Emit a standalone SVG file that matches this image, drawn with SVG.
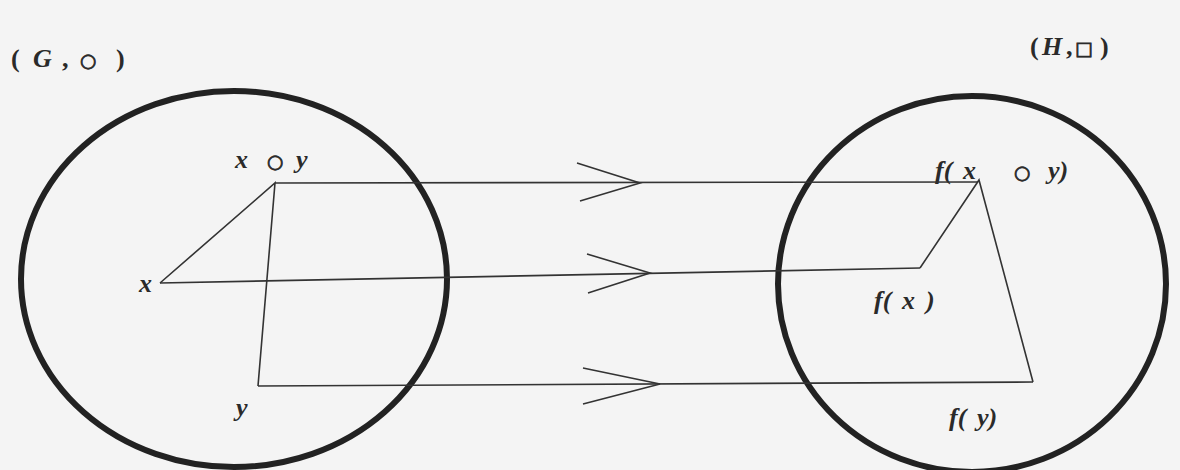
<svg xmlns="http://www.w3.org/2000/svg" width="1180" height="470" viewBox="0 0 1180 470">
<style>
.t{font-family:"Liberation Serif","Times New Roman",serif;font-weight:bold;font-size:26px;fill:#2a2a2a}
.i{font-style:italic}
.r{font-family:"DejaVu Sans",sans-serif;font-style:normal;font-weight:bold;font-size:19px;stroke:#2a2a2a;stroke-width:0.8}
.c{fill:none;stroke:#222;stroke-width:6}
.l{fill:none;stroke:#333;stroke-width:1.6}
</style>
<rect width="1180" height="470" fill="#f4f4f4"/>
<g id="groupG">
<ellipse class="c" cx="234" cy="279" rx="213" ry="188"/>
<text class="t" y="67"><tspan x="11">(</tspan><tspan class="i" x="33">G</tspan><tspan x="62">,</tspan><tspan class="r" x="80">○</tspan><tspan x="116">)</tspan></text>
</g>
<g id="groupH">
<ellipse class="c" cx="972" cy="284" rx="194" ry="188"/>
<text class="t" y="55"><tspan x="1030">(</tspan><tspan class="i" x="1042">H</tspan><tspan x="1066">,</tspan><tspan class="r" x="1075">□</tspan><tspan x="1100">)</tspan></text>
</g>
<g id="nodeXY"><text class="t i" y="168"><tspan x="235">x</tspan><tspan class="r" x="267">○</tspan><tspan x="296">y</tspan></text></g>
<g id="nodeX"><text class="t i" x="139" y="292">x</text></g>
<g id="nodeY"><text class="t i" x="236" y="416">y</text></g>
<g id="nodeFXY"><text class="t i" y="179"><tspan x="935">f(</tspan><tspan x="963">x</tspan><tspan class="r" x="1014">○</tspan><tspan x="1048">y)</tspan></text></g>
<g id="nodeFX"><text class="t i" y="309"><tspan x="874">f(</tspan><tspan x="902">x</tspan><tspan x="926">)</tspan></text></g>
<g id="nodeFY"><text class="t i" y="426"><tspan x="949">f(</tspan><tspan x="977">y)</tspan></text></g>
<g id="connectors">
<path class="l" d="M275 183 L978 182"/>
<path class="l" d="M577 163 L640 183 L580 201"/>
<path class="l" d="M160 283 L920 268"/>
<path class="l" d="M587 254 L650 273 L588 293"/>
<path class="l" d="M258 386 L1033 382"/>
<path class="l" d="M583 368 L660 384 L583 404"/>
<path class="l" d="M160 283 L275 183 L258 386"/>
<path class="l" d="M920 268 L979 180 L1033 382"/>
</g>
</svg>
